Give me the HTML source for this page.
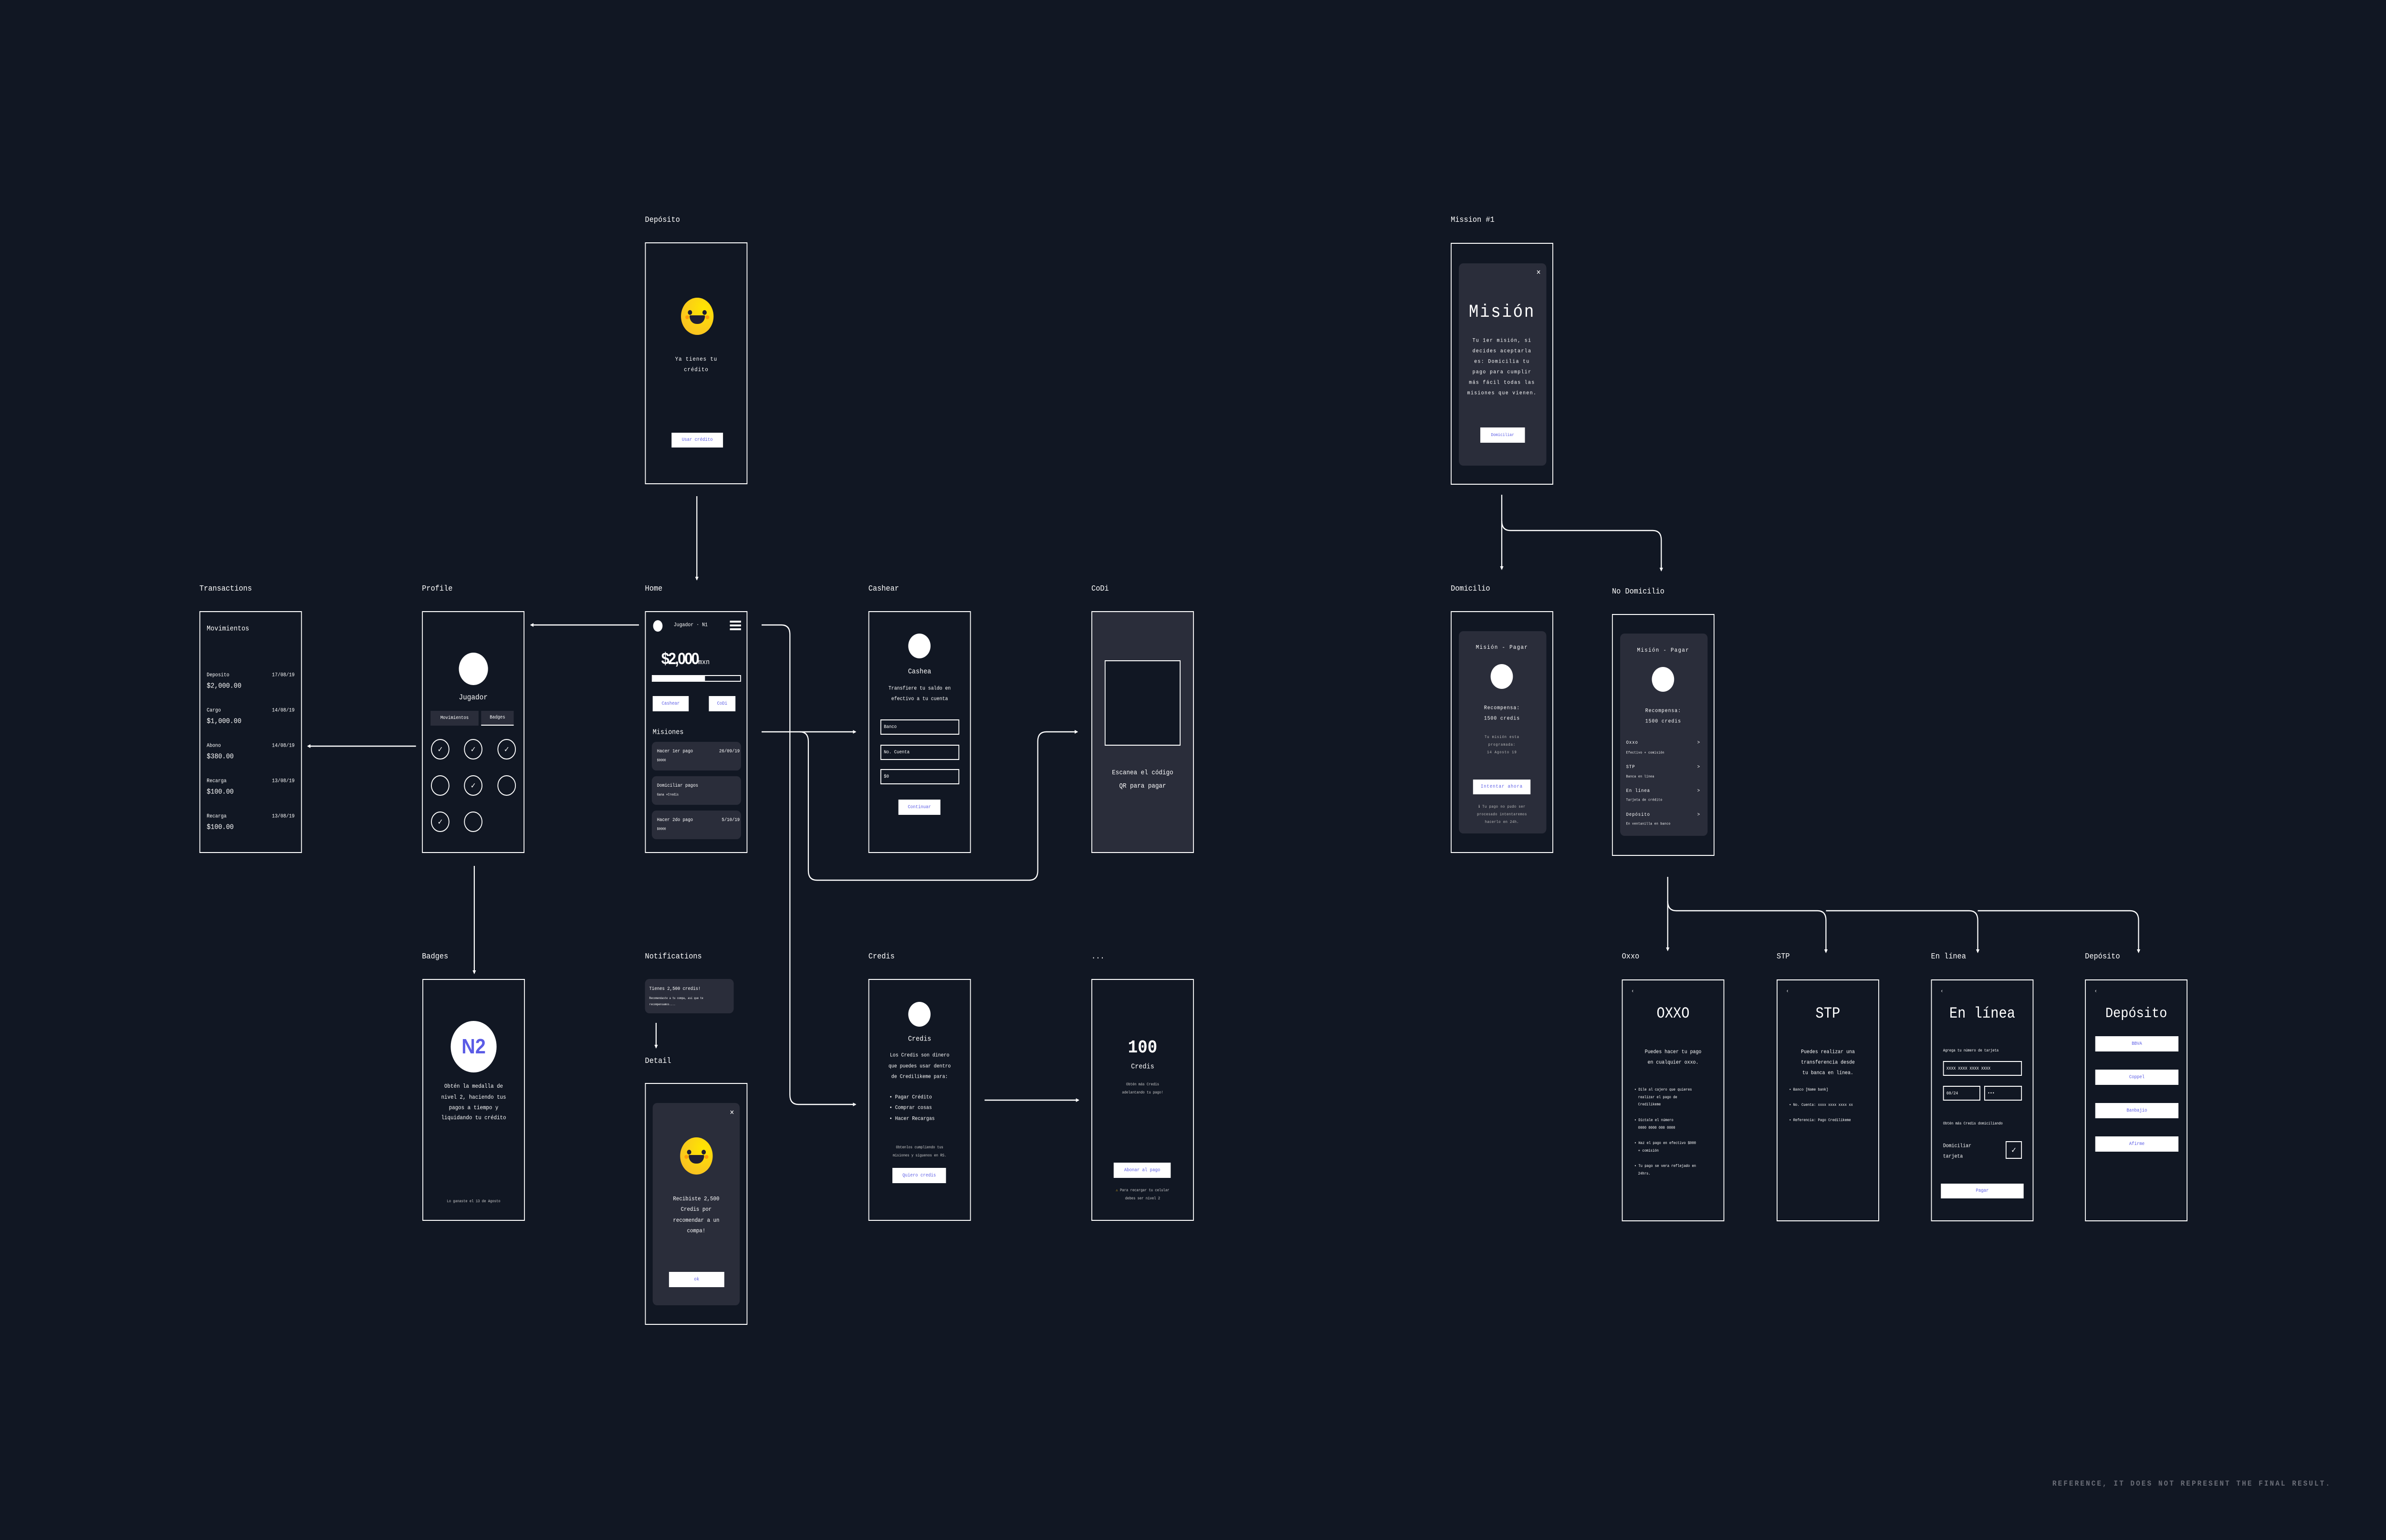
<!DOCTYPE html>
<html><head><meta charset="utf-8">
<style>
*{margin:0;padding:0;box-sizing:border-box}
html,body{width:100%;height:100%;overflow:hidden;background:#111723}
#root{width:5564px;height:3228px;background:#111723;position:relative;overflow:hidden;font-family:"Liberation Mono",monospace;color:#fff}
.a{position:absolute}
.lbl{position:absolute;font-size:17px;color:#fff;line-height:1;white-space:nowrap}
.f{position:absolute;border:2px solid #fff;width:239px;height:507px;background:#111723;overflow:hidden}
.c{position:absolute;left:0;right:0;text-align:center;transform:translateY(-50%);white-space:nowrap;line-height:1}
.t{position:absolute;transform:translateY(-50%);white-space:nowrap;line-height:1}
.btn{position:absolute;background:#fff;color:#5b5ce6;display:flex;align-items:center;justify-content:center;font-size:11px}
.card{position:absolute;background:#2a2d3a;border-radius:10px}
.circ{position:absolute;background:#fff;border-radius:50%}
.inp{position:absolute;border:2px solid #fff;font-size:10px;display:flex;align-items:center;padding-left:6px}
.emo{position:absolute;width:76px;height:78px;border-radius:50%;background:radial-gradient(circle at 70% 30%,#ffe600,#f9c51f 70%,#f2b81b)}
.emo .e1,.emo .e2{position:absolute;width:10px;height:10px;border-radius:50%;background:#1f1e33;top:26px}
.emo .e1{left:16px}.emo .e2{right:16px}
.emo .ck1,.emo .ck2{position:absolute;width:9px;height:8px;border-radius:50%;background:#ff9d0a;top:37px}
.emo .ck1{left:10px}.emo .ck2{right:10px}
.emo .m{position:absolute;left:20px;width:36px;height:18px;top:37px;background:#1f1e33;border-radius:2px 2px 18px 18px}
.bdg{position:absolute;width:43px;height:43px;border:2px solid #fff;border-radius:50%;display:flex;align-items:center;justify-content:center;font-size:18px;font-weight:bold}
</style></head><body>
<svg style="position:fixed;left:0;top:0;width:100vw;height:100vh;display:block" viewBox="0 0 5564 3228" preserveAspectRatio="none">
<foreignObject x="0" y="0" width="5564" height="3228">
<div xmlns="http://www.w3.org/1999/xhtml" id="root">

<svg class="a" style="left:0;top:0" width="5564" height="3228">
<defs><marker id="ar" markerWidth="8" markerHeight="8" refX="6" refY="4" orient="auto" markerUnits="userSpaceOnUse"><path d="M0,0 L8,4 L0,8 z" fill="#fff"/></marker></defs>
<g fill="none" stroke="#fff" stroke-width="2.5" marker-end="url(#ar)">
<path d="M1625,1040 V1215"/>
<path d="M1490,1310 H1238"/>
<path d="M970,1564 H718"/>
<path d="M1106,1815 V2040"/>
<path d="M1776,1534 H1995"/>
<path d="M1776,1310 H1822 Q1842,1310 1842,1330 V2295 Q1842,2315 1862,2315 H1995"/>
<path d="M1865,1534 Q1885,1534 1885,1554 V1825 Q1885,1845 1905,1845 H2400 Q2420,1845 2420,1825 V1554 Q2420,1534 2440,1534 H2512"/>
<path d="M2296,2306 H2515"/>
<path d="M1530,2144 V2196"/>
<path d="M3502,1037 V1193"/>
<path d="M3502,1092 Q3502,1112 3522,1112 H3854 Q3874,1112 3874,1132 V1196"/>
<path d="M3889,1838 V1992"/>
<path d="M3889,1889 Q3889,1909 3909,1909 H4238 Q4258,1909 4258,1929 V1996"/>
<path d="M4258,1909 H4592 Q4612,1909 4612,1929 V1996"/>
<path d="M4612,1909 H4967 Q4987,1909 4987,1929 V1996"/>
</g>
</svg>

<div class="lbl" style="left:1504px;top:453px">Depósito</div>
<div class="lbl" style="left:3383px;top:453px">Mission #1</div>
<div class="lbl" style="left:465px;top:1226px">Transactions</div>
<div class="lbl" style="left:984px;top:1226px">Profile</div>
<div class="lbl" style="left:1504px;top:1226px">Home</div>
<div class="lbl" style="left:2025px;top:1226px">Cashear</div>
<div class="lbl" style="left:2545px;top:1226px">CoDi</div>
<div class="lbl" style="left:3383px;top:1226px">Domicilio</div>
<div class="lbl" style="left:3759px;top:1232px">No Domicilio</div>
<div class="lbl" style="left:984px;top:1997px">Badges</div>
<div class="lbl" style="left:1504px;top:1997px">Notifications</div>
<div class="lbl" style="left:1504px;top:2216px">Detail</div>
<div class="lbl" style="left:2025px;top:1997px">Credis</div>
<div class="lbl" style="left:2545px;top:1997px">...</div>
<div class="lbl" style="left:3782px;top:1997px">Oxxo</div>
<div class="lbl" style="left:4143px;top:1997px">STP</div>
<div class="lbl" style="left:4503px;top:1997px">En línea</div>
<div class="lbl" style="left:4862px;top:1997px">Depósito</div>

<div class="f" style="left:1504px;top:508px">
 <div class="emo" style="left:82px;top:114px"><div class="e1"></div><div class="e2"></div><div class="ck1"></div><div class="ck2"></div><div class="m"></div></div>
 <div class="c" style="top:243px;font-size:12px;letter-spacing:1px">Ya tienes tu</div>
 <div class="c" style="top:265px;font-size:12px;letter-spacing:1px">crédito</div>
 <div class="btn" style="left:60px;top:397px;width:120px;height:31px;font-size:10px">Usar crédito</div>
</div>

<div class="f" style="left:3383px;top:509px">
 <div class="card" style="left:17px;top:41px;width:204px;height:424px"></div>
 <div class="t" style="left:198px;top:60px;font-size:16px;font-weight:bold">✕</div>
 <div class="c" style="top:144px;font-size:38px;letter-spacing:3px">Misión</div>
 <div class="c" style="top:204px;font-size:11px;letter-spacing:1.5px">Tu 1er misión, si</div>
 <div class="c" style="top:226px;font-size:11px;letter-spacing:1.5px">decides aceptarla</div>
 <div class="c" style="top:248px;font-size:11px;letter-spacing:1.5px">es: Domicilia tu</div>
 <div class="c" style="top:270px;font-size:11px;letter-spacing:1.5px">pago para cumplir</div>
 <div class="c" style="top:292px;font-size:11px;letter-spacing:1.5px">más fácil todas las</div>
 <div class="c" style="top:314px;font-size:11px;letter-spacing:1.5px">misiones que vienen.</div>
 <div class="btn" style="left:67px;top:385px;width:104px;height:32px;font-size:9px">Domiciliar</div>
</div>

<div class="f" style="left:465px;top:1281px">
 <div class="t" style="left:15px;top:35px;font-size:15px">Movimientos</div>
 <div class="t" style="left:15px;top:133px;font-size:11px">Deposito</div><div class="t" style="right:15px;top:133px;font-size:11px">17/08/19</div><div class="t" style="left:15px;top:155px;font-size:15px">$2,000.00</div>
 <div class="t" style="left:15px;top:207px;font-size:11px">Cargo</div><div class="t" style="right:15px;top:207px;font-size:11px">14/08/19</div><div class="t" style="left:15px;top:229px;font-size:15px">$1,000.00</div>
 <div class="t" style="left:15px;top:281px;font-size:11px">Abono</div><div class="t" style="right:15px;top:281px;font-size:11px">14/08/19</div><div class="t" style="left:15px;top:303px;font-size:15px">$380.00</div>
 <div class="t" style="left:15px;top:355px;font-size:11px">Recarga</div><div class="t" style="right:15px;top:355px;font-size:11px">13/08/19</div><div class="t" style="left:15px;top:377px;font-size:15px">$100.00</div>
 <div class="t" style="left:15px;top:429px;font-size:11px">Recarga</div><div class="t" style="right:15px;top:429px;font-size:11px">13/08/19</div><div class="t" style="left:15px;top:451px;font-size:15px">$100.00</div>
</div>

<div class="f" style="left:984px;top:1281px">
 <div class="circ" style="left:84px;top:85px;width:68px;height:68px"></div>
 <div class="c" style="top:179px;font-size:16px">Jugador</div>
 <div class="a" style="left:18px;top:207px;width:112px;height:31px;background:#2a2d3a;font-size:10px;display:flex;align-items:center;justify-content:center">Movimientos</div>
 <div class="a" style="left:136px;top:207px;width:76px;height:31px;background:#2a2d3a;border-bottom:2px solid #fff;font-size:10px;display:flex;align-items:center;justify-content:center">Badges</div>
 <div class="bdg" style="left:19px;top:266px">✓</div><div class="bdg" style="left:96px;top:266px">✓</div><div class="bdg" style="left:174px;top:266px">✓</div>
 <div class="bdg" style="left:19px;top:342px"></div><div class="bdg" style="left:96px;top:342px">✓</div><div class="bdg" style="left:174px;top:342px"></div>
 <div class="bdg" style="left:19px;top:418px">✓</div><div class="bdg" style="left:96px;top:418px"></div>
</div>

<div class="f" style="left:1504px;top:1281px">
 <div class="circ" style="left:17px;top:17px;width:22px;height:24px"></div>
 <div class="t" style="left:65px;top:28px;font-size:11px">Jugador · N1</div>
 <div class="a" style="left:196px;top:18px;width:26px;height:4px;background:#fff"></div>
 <div class="a" style="left:196px;top:26px;width:26px;height:4px;background:#fff"></div>
 <div class="a" style="left:196px;top:34px;width:26px;height:4px;background:#fff"></div>
 <div class="t" style="left:36px;top:98px;font-size:34px;font-weight:bold;letter-spacing:-3px;font-family:'Liberation Sans Narrow','Liberation Sans',sans-serif">$2,000<span style="font-size:15px;font-weight:normal;letter-spacing:0;font-family:'Liberation Mono',monospace">mxn</span></div>
 <div class="a" style="left:14px;top:132px;width:208px;height:14px;border:2px solid #fff"><div style="width:122px;height:100%;background:#fff"></div></div>
 <div class="btn" style="left:16px;top:176px;width:84px;height:32px;font-size:10px">Cashear</div>
 <div class="btn" style="left:147px;top:176px;width:62px;height:32px;font-size:10px">CoDi</div>
 <div class="t" style="left:16px;top:252px;font-size:15px">Misiones</div>
 <div class="card" style="left:14px;top:272px;width:208px;height:60px"></div>
 <div class="t" style="left:26px;top:293px;font-size:10px">Hacer 1er pago</div><div class="t" style="right:16px;top:293px;font-size:10px">26/09/19</div><div class="t" style="left:26px;top:312px;font-size:7px">$0000</div>
 <div class="card" style="left:14px;top:344px;width:208px;height:60px"></div>
 <div class="t" style="left:26px;top:365px;font-size:10px">Domiciliar pagos</div><div class="t" style="left:26px;top:384px;font-size:7px">Gana +Credis</div>
 <div class="card" style="left:14px;top:416px;width:208px;height:60px"></div>
 <div class="t" style="left:26px;top:437px;font-size:10px">Hacer 2do pago</div><div class="t" style="right:16px;top:437px;font-size:10px">5/10/19</div><div class="t" style="left:26px;top:456px;font-size:7px">$0000</div>
</div>

<div class="f" style="left:2025px;top:1281px">
 <div class="circ" style="left:91px;top:45px;width:52px;height:52px"></div>
 <div class="c" style="top:125px;font-size:15px">Cashea</div>
 <div class="c" style="top:161px;font-size:11px">Transfiere tu saldo en</div>
 <div class="c" style="top:183px;font-size:11px">efectivo a tu cuenta</div>
 <div class="inp" style="left:26px;top:225px;width:184px;height:32px">Banco</div>
 <div class="inp" style="left:26px;top:278px;width:184px;height:32px">No. Cuenta</div>
 <div class="inp" style="left:26px;top:329px;width:184px;height:32px">$0</div>
 <div class="btn" style="left:68px;top:393px;width:98px;height:32px;font-size:10px">Continuar</div>
</div>

<div class="f" style="left:2545px;top:1281px;background:#2a2d3a">
 <div class="a" style="left:29px;top:101px;width:177px;height:179px;border:2px solid #fff;background:#111723"></div>
 <div class="c" style="top:337px;font-size:14px">Escanea el código</div>
 <div class="c" style="top:365px;font-size:14px">QR para pagar</div>
</div>

<div class="f" style="left:3383px;top:1281px">
 <div class="card" style="left:17px;top:40px;width:204px;height:424px"></div>
 <div class="c" style="top:74px;font-size:12px;letter-spacing:1.5px">Misión - Pagar</div>
 <div class="circ" style="left:91px;top:109px;width:52px;height:52px"></div>
 <div class="c" style="top:202px;font-size:11px;letter-spacing:1px">Recompensa:</div>
 <div class="c" style="top:224px;font-size:11px;letter-spacing:1px">1500 credis</div>
 <div class="c" style="top:263px;font-size:8px;color:#bbb;letter-spacing:1px">Tu misión esta</div>
 <div class="c" style="top:279px;font-size:8px;color:#bbb;letter-spacing:1px">programada:</div>
 <div class="c" style="top:295px;font-size:8px;color:#bbb;letter-spacing:1px">14 Agosto 19</div>
 <div class="btn" style="left:50px;top:351px;width:134px;height:31px;font-size:10px;letter-spacing:1px">Intentar ahora</div>
 <div class="c" style="top:409px;font-size:8px;color:#bbb;letter-spacing:.5px">ℹ Tu pago no pudo ser</div>
 <div class="c" style="top:425px;font-size:8px;color:#bbb;letter-spacing:.5px">procesado intentaremos</div>
 <div class="c" style="top:441px;font-size:8px;color:#bbb;letter-spacing:.5px">hacerlo en 24h.</div>
</div>

<div class="f" style="left:3759px;top:1287px">
 <div class="card" style="left:17px;top:39px;width:204px;height:424px"></div>
 <div class="c" style="top:74px;font-size:12px;letter-spacing:1.5px">Misión - Pagar</div>
 <div class="circ" style="left:91px;top:109px;width:52px;height:52px"></div>
 <div class="c" style="top:202px;font-size:11px;letter-spacing:1px">Recompensa:</div>
 <div class="c" style="top:224px;font-size:11px;letter-spacing:1px">1500 credis</div>
 <div class="t" style="left:31px;top:269px;font-size:10px;letter-spacing:1px">Oxxo</div><div class="t" style="left:197px;top:269px;font-size:10px">&gt;</div><div class="t" style="left:31px;top:290px;font-size:7px;letter-spacing:.5px">Efectivo + comisión</div>
 <div class="t" style="left:31px;top:320px;font-size:10px;letter-spacing:1px">STP</div><div class="t" style="left:197px;top:320px;font-size:10px">&gt;</div><div class="t" style="left:31px;top:340px;font-size:7px;letter-spacing:.5px">Banca en línea</div>
 <div class="t" style="left:31px;top:370px;font-size:10px;letter-spacing:1px">En línea</div><div class="t" style="left:197px;top:370px;font-size:10px">&gt;</div><div class="t" style="left:31px;top:389px;font-size:7px;letter-spacing:.5px">Tarjeta de crédito</div>
 <div class="t" style="left:31px;top:420px;font-size:10px;letter-spacing:1px">Depósito</div><div class="t" style="left:197px;top:420px;font-size:10px">&gt;</div><div class="t" style="left:31px;top:439px;font-size:7px;letter-spacing:.5px">En ventanilla en banco</div>
</div>

<div class="f" style="left:985px;top:2052px">
 <div class="circ" style="left:64px;top:86px;width:107px;height:108px;display:flex;align-items:center;justify-content:center;color:#5b5ce6;font-size:44px;font-weight:bold;font-family:'Liberation Sans',sans-serif">N2</div>
 <div class="c" style="top:223px;font-size:12px">Obtén la medalla de</div>
 <div class="c" style="top:246px;font-size:12px">nivel 2, haciendo tus</div>
 <div class="c" style="top:268px;font-size:12px">pagos a tiempo y</div>
 <div class="c" style="top:289px;font-size:12px">liquidando tu crédito</div>
 <div class="c" style="top:465px;font-size:8px;color:#ccc">Lo ganaste el 13 de Agosto</div>
</div>

<div class="card" style="left:1504px;top:2052px;width:207px;height:72px">
 <div class="t" style="left:10px;top:22px;font-size:10px">Tienes 2,500 credis!</div>
 <div class="t" style="left:10px;top:41px;font-size:6px">Recomendaste a tu compa, así que te</div>
 <div class="t" style="left:10px;top:54px;font-size:6px">recompensamos....</div>
</div>

<div class="f" style="left:1504px;top:2270px">
 <div class="card" style="left:16px;top:40px;width:203px;height:424px"></div>
 <div class="t" style="left:196px;top:60px;font-size:16px;font-weight:bold">✕</div>
 <div class="emo" style="left:80px;top:112px"><div class="e1"></div><div class="e2"></div><div class="ck1"></div><div class="ck2"></div><div class="m"></div></div>
 <div class="c" style="top:241px;font-size:12px">Recibiste 2,500</div>
 <div class="c" style="top:263px;font-size:12px">Credis por</div>
 <div class="c" style="top:286px;font-size:12px">recomendar a un</div>
 <div class="c" style="top:308px;font-size:12px">compa!</div>
 <div class="btn" style="left:54px;top:394px;width:129px;height:32px;font-size:10px">ok</div>
</div>

<div class="f" style="left:2025px;top:2052px">
 <div class="circ" style="left:91px;top:46px;width:52px;height:52px"></div>
 <div class="c" style="top:124px;font-size:15px">Credis</div>
 <div class="c" style="top:159px;font-size:11px">Los Credis son dinero</div>
 <div class="c" style="top:182px;font-size:11px">que puedes usar dentro</div>
 <div class="c" style="top:204px;font-size:11px">de Credilikeme para:</div>
 <div class="t" style="left:47px;top:247px;font-size:11px">• Pagar Crédito</div>
 <div class="t" style="left:47px;top:269px;font-size:11px">• Comprar cosas</div>
 <div class="t" style="left:47px;top:292px;font-size:11px">• Hacer Recargas</div>
 <div class="c" style="top:352px;font-size:8px;color:#ccc">Obtenlos cumpliendo tus</div>
 <div class="c" style="top:369px;font-size:8px;color:#ccc">misiones y síguenos en RS.</div>
 <div class="btn" style="left:54px;top:394px;width:125px;height:32px;font-size:10px">Quiero credis</div>
</div>

<div class="f" style="left:2545px;top:2052px">
 <div class="c" style="top:143px;font-size:38px;font-weight:bold">100</div>
 <div class="c" style="top:182px;font-size:15px">Credis</div>
 <div class="c" style="top:220px;font-size:8px;color:#ccc">Obtén más Credis</div>
 <div class="c" style="top:237px;font-size:8px;color:#ccc">adelantando tu pago!</div>
 <div class="btn" style="left:50px;top:383px;width:133px;height:32px;font-size:10px">Abonar al pago</div>
 <div class="c" style="top:442px;font-size:8px;color:#ccc"><span style="color:#f2c11b">⚠</span> Para recargar tu celular</div>
 <div class="c" style="top:459px;font-size:8px;color:#ccc">debes ser nivel 2</div>
</div>

<div class="f" style="left:3782px;top:2053px">
 <div class="t" style="left:20px;top:24px;font-size:11px">‹</div>
 <div class="c" style="top:70px;font-size:32px">OXXO</div>
 <div class="c" style="top:151px;font-size:11px">Puedes hacer tu pago</div>
 <div class="c" style="top:173px;font-size:11px">en cualquier oxxo.</div>
 <div class="t" style="left:27px;top:230px;font-size:8px">• Dile al cajero que quieres</div>
 <div class="t" style="left:36px;top:246px;font-size:8px">realizar el pago de</div>
 <div class="t" style="left:36px;top:261px;font-size:8px">Credilikeme</div>
 <div class="t" style="left:27px;top:294px;font-size:8px">• Díctale el número</div>
 <div class="t" style="left:36px;top:310px;font-size:8px">0000 0000 000 0000</div>
 <div class="t" style="left:27px;top:342px;font-size:8px">• Haz el pago en efectivo $000</div>
 <div class="t" style="left:36px;top:358px;font-size:8px">+ comisión</div>
 <div class="t" style="left:27px;top:390px;font-size:8px">• Tu pago se vera reflejado en</div>
 <div class="t" style="left:36px;top:406px;font-size:8px">24hrs.</div>
</div>

<div class="f" style="left:4143px;top:2053px">
 <div class="t" style="left:20px;top:24px;font-size:11px">‹</div>
 <div class="c" style="top:70px;font-size:32px">STP</div>
 <div class="c" style="top:151px;font-size:11px">Puedes realizar una</div>
 <div class="c" style="top:173px;font-size:11px">transferencia desde</div>
 <div class="c" style="top:195px;font-size:11px">tu banca en línea.</div>
 <div class="t" style="left:27px;top:230px;font-size:8px">• Banco [Name bank]</div>
 <div class="t" style="left:27px;top:262px;font-size:8px">• No. Cuenta: xxxx xxxx xxxx xx</div>
 <div class="t" style="left:27px;top:294px;font-size:8px">• Referencia: Pago Credilikeme</div>
</div>

<div class="f" style="left:4503px;top:2053px">
 <div class="t" style="left:20px;top:24px;font-size:11px">‹</div>
 <div class="c" style="top:70px;font-size:32px">En línea</div>
 <div class="t" style="left:26px;top:148px;font-size:8px">Agrega tu número de tarjeta</div>
 <div class="inp" style="left:26px;top:169px;width:184px;height:31px;font-size:9px">XXXX XXXX XXXX XXXX</div>
 <div class="inp" style="left:26px;top:221px;width:87px;height:31px;font-size:9px">08/24</div>
 <div class="inp" style="left:122px;top:221px;width:88px;height:31px;font-size:9px">•••</div>
 <div class="t" style="left:26px;top:301px;font-size:8px">Obtén más Credis domiciliando</div>
 <div class="t" style="left:26px;top:348px;font-size:11px">Domiciliar</div>
 <div class="t" style="left:26px;top:370px;font-size:11px">tarjeta</div>
 <div class="a" style="left:172px;top:337px;width:38px;height:37px;border:2px solid #fff;display:flex;align-items:center;justify-content:center;font-size:18px;font-weight:bold">✓</div>
 <div class="btn" style="left:21px;top:426px;width:193px;height:31px;font-size:10px">Pagar</div>
</div>

<div class="f" style="left:4862px;top:2053px">
 <div class="t" style="left:20px;top:24px;font-size:11px">‹</div>
 <div class="c" style="top:70px;font-size:30px">Depósito</div>
 <div class="btn" style="left:22px;top:117px;width:194px;height:32px;font-size:10px">BBVA</div>
 <div class="btn" style="left:22px;top:187px;width:194px;height:32px;font-size:10px">Coppel</div>
 <div class="btn" style="left:22px;top:257px;width:194px;height:32px;font-size:10px">Banbajio</div>
 <div class="btn" style="left:22px;top:327px;width:194px;height:32px;font-size:10px">Afirme</div>
</div>

<div class="t" style="left:4786px;top:3110px;font-size:16px;letter-spacing:3.4px;color:#6b6e78;font-weight:bold">REFERENCE, IT DOES NOT REPRESENT THE FINAL RESULT.</div>
</div>
</foreignObject>
</svg>
</body></html>
